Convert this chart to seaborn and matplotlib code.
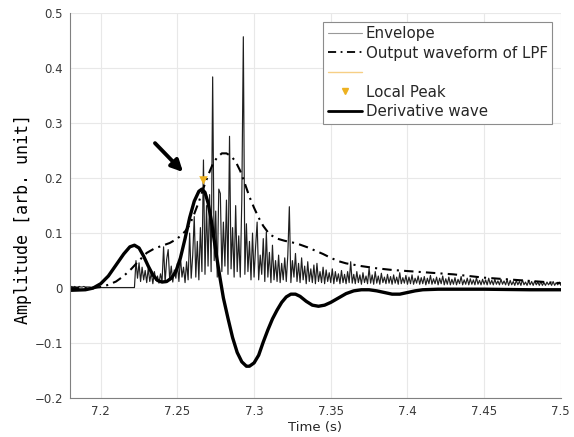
import numpy as np
import pandas as pd
import matplotlib
matplotlib.use("Agg")
import matplotlib.pyplot as plt
import seaborn as sns
from matplotlib.lines import Line2D

sns.set_theme(style="whitegrid")
plt.rcParams['font.family'] = ['DejaVu Sans']

# ------------------------------------------------------------
# data
# ------------------------------------------------------------

# envelope, sampled every 1 ms from 7.180 s to 7.500 s (one row = 10 ms)
env_vals = [
    .002, .003, .002, .003, .002, .002, .003, .002, .002, .003,  # 7.18
    .002, .002, .002, .002, .001, .002, .001, .001, .002, .001,  # 7.19
    .001, .001, .001, .001, .001, .001, .001, .001, .001, .001,  # 7.20
    .001, .001, .001, .001, .001, .001, .001, .001, .001, .001,  # 7.21
    .001, .001, .001, .050, .018, .046, .012, .038, .015, .032,  # 7.22
    .010, .036, .012, .028, .008, .030, .014, .022, .009, .026,  # 7.23
    .012, .075, .010, .052, .070, .014, .040, .011, .033, .018,  # 7.24
    .045, .012, .057, .020, .038, .010, .048, .015, .100, .018,  # 7.25
    .060, .130, .020, .085, .015, .110, .030, .233, .025, .150,  # 7.26
    .040, .170, .030, .384, .050, .140, .020, .180, .172, .030,  # 7.27
    .120, .040, .160, .025, .276, .035, .110, .020, .150, .030,  # 7.28
    .095, .020, .160, .457, .025, .117, .030, .085, .015, .100,  # 7.29
    .020, .075, .120, .015, .060, .025, .090, .012, .102, .020,  # 7.30
    .065, .010, .078, .015, .050, .012, .060, .010, .045, .015,  # 7.31
    .055, .012, .060, .148, .010, .050, .020, .063, .012, .045,  # 7.32
    .010, .055, .015, .040, .008, .048, .012, .035, .010, .042,  # 7.33
    .008, .045, .012, .030, .010, .038, .008, .033, .012, .028,  # 7.34
    .010, .035, .008, .030, .012, .026, .008, .032, .010, .025,  # 7.35
    .008, .030, .010, .048, .009, .025, .008, .030, .010, .024,  # 7.36
    .007, .028, .010, .022, .008, .036, .009, .024, .007, .030,  # 7.37
    .009, .022, .007, .027, .010, .020, .008, .025, .009, .021,  # 7.38
    .007, .024, .009, .020, .007, .028, .008, .019, .009, .023,  # 7.39
    .007, .020, .008, .024, .007, .018, .009, .022, .007, .019,  # 7.40
    .008, .021, .006, .018, .008, .023, .007, .017, .008, .020,  # 7.41
    .006, .018, .008, .022, .006, .017, .007, .020, .006, .016,  # 7.42
    .007, .019, .006, .016, .008, .021, .006, .015, .007, .018,  # 7.43
    .006, .017, .007, .015, .006, .019, .007, .014, .006, .016,  # 7.44
    .007, .015, .006, .018, .007, .014, .006, .016, .007, .013,  # 7.45
    .006, .016, .007, .013, .006, .015, .005, .014, .006, .012,  # 7.46
    .005, .014, .006, .012, .005, .015, .006, .011, .005, .013,  # 7.47
    .006, .012, .005, .013, .006, .011, .005, .012, .005, .010,  # 7.48
    .005, .011, .006, .010, .005, .012, .005, .010, .006, .011,  # 7.49
    .005,                                                        # 7.50
]
env_t = np.round(np.linspace(7.18, 7.50, len(env_vals)), 3)

# output of the low pass filter
lpf_t = [7.18, 7.19, 7.195, 7.2, 7.205, 7.21, 7.215, 7.22, 7.225, 7.23,
         7.235, 7.24, 7.245, 7.25, 7.255, 7.258, 7.261, 7.264, 7.267, 7.27,
         7.273, 7.276, 7.279, 7.282, 7.285, 7.288, 7.291, 7.294, 7.297, 7.3,
         7.303, 7.306, 7.31, 7.315, 7.32, 7.325, 7.33, 7.335, 7.34, 7.345,
         7.35, 7.355, 7.36, 7.37, 7.38, 7.39, 7.4, 7.41, 7.42, 7.43,
         7.44, 7.45, 7.46, 7.47, 7.48, 7.49, 7.5]
lpf_vals = [0.0, 0.0, 0.0, 0.002, 0.006, 0.012, 0.022, 0.035, 0.05, 0.064,
            0.072, 0.077, 0.082, 0.09, 0.103, 0.115, 0.135, 0.157, 0.182, 0.205,
            0.225, 0.238, 0.245, 0.245, 0.24, 0.23, 0.213, 0.19, 0.166, 0.146,
            0.128, 0.113, 0.098, 0.09, 0.086, 0.083, 0.079, 0.074, 0.068, 0.062,
            0.055, 0.049, 0.045, 0.04, 0.036, 0.033, 0.031, 0.029, 0.027, 0.025,
            0.022, 0.019, 0.017, 0.015, 0.013, 0.011, 0.009]

# derivative wave
der_t = [7.18, 7.19, 7.195, 7.2, 7.205, 7.21, 7.215, 7.219, 7.222, 7.225,
         7.228, 7.231, 7.234, 7.237, 7.24, 7.243, 7.246, 7.249, 7.252, 7.255,
         7.258, 7.261, 7.264, 7.266, 7.268, 7.27, 7.272, 7.274, 7.276, 7.278,
         7.28, 7.283, 7.286, 7.289, 7.292, 7.295, 7.297, 7.3, 7.303, 7.306,
         7.309, 7.312, 7.315, 7.318, 7.321, 7.324, 7.327, 7.33, 7.334, 7.338,
         7.342, 7.346, 7.35, 7.355, 7.36, 7.365, 7.37, 7.375, 7.38, 7.385,
         7.39, 7.395, 7.4, 7.405, 7.41, 7.42, 7.45, 7.48, 7.5]
der_vals = [-0.004, -0.003, 0.0, 0.008, 0.022, 0.042, 0.062, 0.075, 0.078, 0.073,
            0.058, 0.04, 0.024, 0.014, 0.011, 0.012, 0.018, 0.03, 0.055, 0.09,
            0.128, 0.158, 0.176, 0.18, 0.174, 0.155, 0.125, 0.087, 0.05, 0.015,
            -0.018, -0.055, -0.09, -0.117, -0.134, -0.142, -0.142, -0.136, -0.122, -0.098,
            -0.076, -0.056, -0.04, -0.026, -0.016, -0.011, -0.011, -0.015, -0.024, -0.031,
            -0.033, -0.031, -0.026, -0.018, -0.01, -0.005, -0.003, -0.003, -0.005, -0.008,
            -0.011, -0.011, -0.008, -0.005, -0.003, -0.002, -0.002, -0.003, -0.003]

# local peak
peak_t = [7.2667]
peak_vals = [0.196]

x_ticks = [7.2, 7.25, 7.3, 7.35, 7.4, 7.45, 7.5]
x_tick_labels = ["7.2", "7.25", "7.3", "7.35", "7.4", "7.45", "7.5"]
y_ticks = [-0.2, -0.1, 0, 0.1, 0.2, 0.3, 0.4, 0.5]
y_tick_labels = ["\u22120.2", "\u22120.1", "0", "0.1", "0.2", "0.3", "0.4", "0.5"]

env_df = pd.DataFrame({"t": env_t, "amp": env_vals})
lpf_df = pd.DataFrame({"t": lpf_t, "amp": lpf_vals})
der_df = pd.DataFrame({"t": der_t, "amp": der_vals})
peak_df = pd.DataFrame({"t": peak_t, "amp": peak_vals})

ORANGE = "#EDB120"
DASHDOT = (0, (4.5, 2.5, 1, 2.5))

# ------------------------------------------------------------
# plot
# ------------------------------------------------------------

fig = plt.figure(figsize=(5.74, 4.37), dpi=100)
ax = fig.add_axes([0.122, 0.089, 0.855, 0.881])

sns.lineplot(data=env_df, x="t", y="amp", ax=ax, color="0.12", lw=0.85,
             estimator=None, sort=False)
sns.lineplot(data=lpf_df, x="t", y="amp", ax=ax, color="black", lw=1.5,
             estimator=None, sort=False)
ax.lines[-1].set_linestyle(DASHDOT)
sns.lineplot(data=der_df, x="t", y="amp", ax=ax, color="black", lw=2.4,
             estimator=None, sort=False)
sns.scatterplot(data=peak_df, x="t", y="amp", ax=ax, marker="v", s=38,
                color=ORANGE, edgecolor=ORANGE, linewidth=0, zorder=5)

ax.annotate("", xy=(7.2537, 0.211), xytext=(7.2354, 0.2636),
            arrowprops=dict(arrowstyle="-|>", color="black", lw=2.8,
                            mutation_scale=17, shrinkA=0, shrinkB=0))

ax.set_xlim(7.18, 7.5)
ax.set_ylim(-0.2, 0.5)
ax.set_xticks(x_ticks)
ax.set_xticklabels(x_tick_labels)
ax.set_yticks(y_ticks)
ax.set_yticklabels(y_tick_labels)

ax.grid(True, color="#e8e8e8", lw=0.8)
ax.set_facecolor("white")
for side in ["top", "right"]:
    ax.spines[side].set_visible(False)
for side in ["left", "bottom"]:
    ax.spines[side].set_color("0.5")
    ax.spines[side].set_linewidth(0.8)
ax.tick_params(direction="in", length=3, width=0.6, color="0.5",
               labelsize=8.5, labelcolor="0.22", pad=5)

ax.set_xlabel("Time (s)", fontsize=9.5, color="0.15", labelpad=2)
ax.set_ylabel("Amplitude [arb. unit]", fontsize=12, color="black",
              family="DejaVu Sans Mono")
ax.yaxis.set_label_coords(-0.077, 0.466)

handles = [
    Line2D([], [], color="0.6", lw=0.8),
    Line2D([], [], color="black", lw=1.3, linestyle=DASHDOT),
    Line2D([], [], color="#F6CF85", lw=1.0),
    Line2D([], [], color=ORANGE, marker="v", linestyle="none", markersize=5),
    Line2D([], [], color="black", lw=2.0),
]
labels = ["Envelope", "Output waveform of LPF", "", "Local Peak", "Derivative wave"]
leg = ax.legend(handles, labels, loc="upper right", bbox_to_anchor=(0.983, 0.978),
                fontsize=10.8, frameon=True, fancybox=False, framealpha=1,
                edgecolor="0.55", handlelength=2.3, handletextpad=0.25,
                labelspacing=0.3, borderpad=0.3, borderaxespad=0)
leg.get_frame().set_linewidth(0.8)

fig.savefig("out.png", dpi=100)
